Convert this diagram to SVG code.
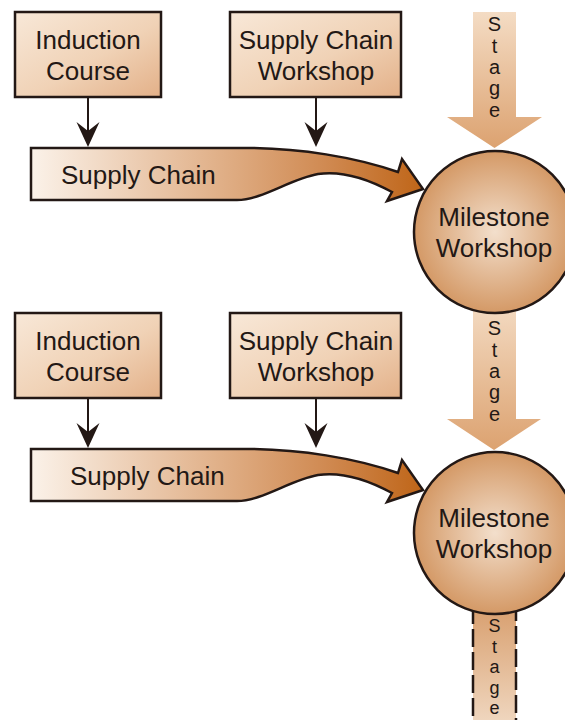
<svg xmlns="http://www.w3.org/2000/svg" width="565" height="720" viewBox="0 0 565 720">
  <defs>
    <linearGradient id="boxFill" x1="0" y1="0" x2="1" y2="1">
      <stop offset="0" stop-color="#f8e8d8"/>
      <stop offset="0.55" stop-color="#f0d2b6"/>
      <stop offset="1" stop-color="#e3b088"/>
    </linearGradient>
    <linearGradient id="bandFill" gradientUnits="userSpaceOnUse" x1="31" y1="0" x2="423" y2="0">
      <stop offset="0" stop-color="#fbf2e9"/>
      <stop offset="0.45" stop-color="#e2b48e"/>
      <stop offset="0.75" stop-color="#d08a52"/>
      <stop offset="1" stop-color="#bf6518"/>
    </linearGradient>
    <radialGradient id="circleFill" cx="0.5" cy="0.5" r="0.5">
      <stop offset="0" stop-color="#f3dfcc"/>
      <stop offset="1" stop-color="#d49966"/>
    </radialGradient>
    <linearGradient id="stageFill" x1="0" y1="0" x2="0" y2="1">
      <stop offset="0" stop-color="#f4dcc4"/>
      <stop offset="1" stop-color="#dca270"/>
    </linearGradient>
    <linearGradient id="stageFillUp" x1="0" y1="0" x2="0" y2="1">
      <stop offset="0" stop-color="#d79c6a"/>
      <stop offset="1" stop-color="#f1dac4"/>
    </linearGradient>
    <marker id="head" markerUnits="userSpaceOnUse" viewBox="0 0 25 24" markerWidth="25" markerHeight="24" refX="18" refY="12" orient="auto">
      <path d="M0,0.5 L25,12 L0,23.5 L9,12 Z" fill="#231815"/>
    </marker>
  </defs>
  <style>
    .box { fill: url(#boxFill); stroke: #231815; stroke-width: 2.5; }
    .band { fill: url(#bandFill); stroke: #231815; stroke-width: 2.5; stroke-linejoin: miter; }
    .hub { fill: url(#circleFill); stroke: #231815; stroke-width: 2.5; }
    .stage { fill: url(#stageFill); }
    .stage-open { fill: url(#stageFillUp); stroke: #231815; stroke-width: 2.5; stroke-dasharray: 18 5; }
    .label { font-family: "Liberation Sans", Arial, sans-serif; font-size: 26px; fill: #231815; text-anchor: middle; }
    .band-label { font-family: "Liberation Sans", Arial, sans-serif; font-size: 26px; fill: #231815; }
    .stage-label { font-family: "Liberation Sans", Arial, sans-serif; font-size: 20px; fill: #231815; text-anchor: middle; }
    .stage-label-sm { font-family: "Liberation Sans", Arial, sans-serif; font-size: 18px; fill: #231815; text-anchor: middle; }
    .link { stroke: #231815; stroke-width: 2; fill: none; marker-end: url(#head); }
  </style>

  <!-- Stage arrows (behind the milestone circles) -->
  <g id="stage-1">
    <polygon class="stage" points="473,12 516,12 516,117 542,117 494.5,148 447,117 473,117"/>
    <text class="stage-label" x="494.5" y="31">S</text>
    <text class="stage-label" x="494.5" y="53">t</text>
    <text class="stage-label" x="494.5" y="74">a</text>
    <text class="stage-label" x="494.5" y="95">g</text>
    <text class="stage-label" x="494.5" y="117">e</text>
  </g>
  <g id="stage-2">
    <polygon class="stage" points="473,300 516,300 516,419 541,419 494,450 447,419 473,419"/>
    <text class="stage-label" x="494.5" y="335">S</text>
    <text class="stage-label" x="494.5" y="357">t</text>
    <text class="stage-label" x="494.5" y="378">a</text>
    <text class="stage-label" x="494.5" y="399">g</text>
    <text class="stage-label" x="494.5" y="421">e</text>
  </g>
  <g id="stage-3">
    <rect class="stage-open" x="473" y="600" width="43" height="130"/>
    <text class="stage-label-sm" x="494.5" y="632">S</text>
    <text class="stage-label-sm" x="494.5" y="652.5">t</text>
    <text class="stage-label-sm" x="494.5" y="673">a</text>
    <text class="stage-label-sm" x="494.5" y="693.5">g</text>
    <text class="stage-label-sm" x="494.5" y="714">e</text>
  </g>

  <!-- Supply chain bands -->
  <g id="supply-chain-1">
    <path class="band" d="M31,148 H245 C300,148 355,157 398,172 L402,159 L423,189 L387,201 L392,192 C370,180 345,170 318,174 C290,179 262,200 237,200 H31 Z"/>
    <text class="band-label" x="61" y="184">Supply Chain</text>
  </g>
  <g id="supply-chain-2" transform="translate(0,301)">
    <path class="band" d="M31,148 H245 C300,148 355,157 398,172 L402,159 L423,189 L387,201 L392,192 C370,180 345,170 318,174 C290,179 262,200 237,200 H31 Z"/>
    <text class="band-label" x="70" y="184">Supply Chain</text>
  </g>

  <!-- Input boxes -->
  <g id="induction-course-1">
    <rect class="box" x="15" y="12" width="146" height="85"/>
    <text class="label" x="88" y="49">Induction</text>
    <text class="label" x="88" y="80">Course</text>
  </g>
  <g id="supply-chain-workshop-1">
    <rect class="box" x="230" y="12" width="171" height="85"/>
    <text class="label" x="316" y="49">Supply Chain</text>
    <text class="label" x="316" y="80">Workshop</text>
  </g>
  <g id="induction-course-2" transform="translate(0,301)">
    <rect class="box" x="15" y="12" width="146" height="85"/>
    <text class="label" x="88" y="49">Induction</text>
    <text class="label" x="88" y="80">Course</text>
  </g>
  <g id="supply-chain-workshop-2" transform="translate(0,301)">
    <rect class="box" x="230" y="12" width="171" height="85"/>
    <text class="label" x="316" y="49">Supply Chain</text>
    <text class="label" x="316" y="80">Workshop</text>
  </g>

  <!-- Milestone workshops -->
  <g id="milestone-workshop-1">
    <circle class="hub" cx="495" cy="232" r="81"/>
    <text class="label" x="494" y="226">Milestone</text>
    <text class="label" x="494" y="257">Workshop</text>
  </g>
  <g id="milestone-workshop-2">
    <circle class="hub" cx="495" cy="533" r="81"/>
    <text class="label" x="494" y="527">Milestone</text>
    <text class="label" x="494" y="558">Workshop</text>
  </g>

  <!-- Connectors: boxes feed into the supply chain band -->
  <g id="connectors">
    <line class="link" x1="88" y1="97" x2="88" y2="140"/>
    <line class="link" x1="316" y1="97" x2="316" y2="140"/>
    <line class="link" x1="88" y1="398" x2="88" y2="441"/>
    <line class="link" x1="316" y1="398" x2="316" y2="441"/>
  </g>
</svg>
